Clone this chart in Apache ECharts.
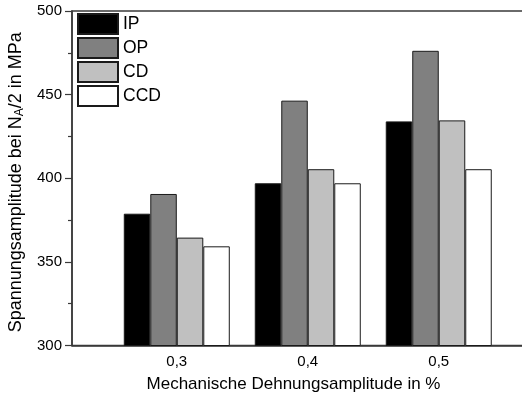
<!DOCTYPE html>
<html>
<head>
<meta charset="utf-8">
<script src="https://cdn.jsdelivr.net/npm/echarts@6/dist/echarts.min.js"></script>
<style>
  html, body { margin: 0; padding: 0; background: #fff; }
  #chart { width: 522px; height: 398px; }
</style>
</head>
<body>
<div id="chart"></div>
<script>
// Mechanical strain amplitudes (%) on the x axis
const strainAmplitudes = [0.3, 0.4, 0.5];
// Stress amplitude at N_A/2 in MPa for each test type
const seriesNames = ['IP', 'OP', 'CD', 'CCD'];
const ipValues  = [378.8, 397.0, 434.0];
const opValues  = [390.6, 446.4, 476.2];
const cdValues  = [364.5, 405.4, 434.6];
const ccdValues = [359.3, 397.0, 405.4];
const seriesValues = [ipValues, opValues, cdValues, ccdValues];
const fillColors = ['#000000', '#808080', '#c0c0c0', '#ffffff'];

const FONT = 'Liberation Sans, Arial, sans-serif';
const AXIS_COLOR = '#3a3a3a';

const chart = echarts.init(document.getElementById('chart'), null, { renderer: 'canvas' });

const series = seriesNames.map((name, i) => ({
  name: name,
  type: 'bar',
  barWidth: 26.5,
  barGap: '0%',
  data: strainAmplitudes.map((x, j) => [x, seriesValues[i][j]]),
  itemStyle: {
    color: fillColors[i],
    borderColor: '#1a1a1a',
    borderWidth: 1
  },
  emphasis: { disabled: true }
}));

chart.setOption({
  animation: false,
  backgroundColor: '#ffffff',
  grid: {
    left: 72,
    right: -15,
    top: 11,
    bottom: 52.5,
    outerBoundsMode: 'none',
    show: true,
    borderColor: AXIS_COLOR,
    borderWidth: 1.5,
    backgroundColor: 'transparent'
  },
  legend: {
    left: 72,
    top: 8,
    orient: 'vertical',
    icon: 'rect',
    itemWidth: 40,
    itemHeight: 20,
    itemGap: 2,
    textStyle: { fontFamily: FONT, fontSize: 17.5, color: '#000' },
    data: seriesNames
  },
  xAxis: {
    type: 'value',
    min: 0.22,
    max: 0.575,
    name: 'Mechanische Dehnungsamplitude in %',
    nameLocation: 'middle',
    nameGap: 30,
    nameTextStyle: { fontFamily: FONT, fontSize: 17, color: '#000', padding: [0, 22, 0, 0] },
    axisLine: { show: true, onZero: false, lineStyle: { color: AXIS_COLOR, width: 1.5 } },
    axisTick: { show: false },
    splitLine: { show: false },
    axisLabel: {
      customValues: strainAmplitudes,
      fontFamily: FONT,
      fontSize: 15,
      color: '#000',
      margin: 9,
      formatter: v => v.toFixed(1).replace('.', ',')
    }
  },
  yAxis: {
    type: 'value',
    min: 300,
    max: 500,
    interval: 50,
    name: 'Spannungsamplitude bei N{sub|A}/2 in MPa',
    nameLocation: 'middle',
    nameGap: 45,
    nameTextStyle: {
      fontFamily: FONT,
      fontSize: 18,
      color: '#000',
      padding: [0, 8, 0, 0],
      rich: {
        sub: { fontFamily: FONT, fontSize: 12, color: '#000', verticalAlign: 'bottom', padding: [8, 0, 0, 0] }
      }
    },
    axisLine: { show: true, lineStyle: { color: AXIS_COLOR, width: 1.5 } },
    axisTick: { show: true, inside: false, length: 7, lineStyle: { color: AXIS_COLOR, width: 1.2 } },
    minorTick: { show: true, splitNumber: 2, length: 4, lineStyle: { color: AXIS_COLOR, width: 1.2 } },
    splitLine: { show: false },
    axisLabel: { fontFamily: FONT, fontSize: 15, color: '#000', margin: 10 }
  },
  series: series
});
</script>
</body>
</html>
